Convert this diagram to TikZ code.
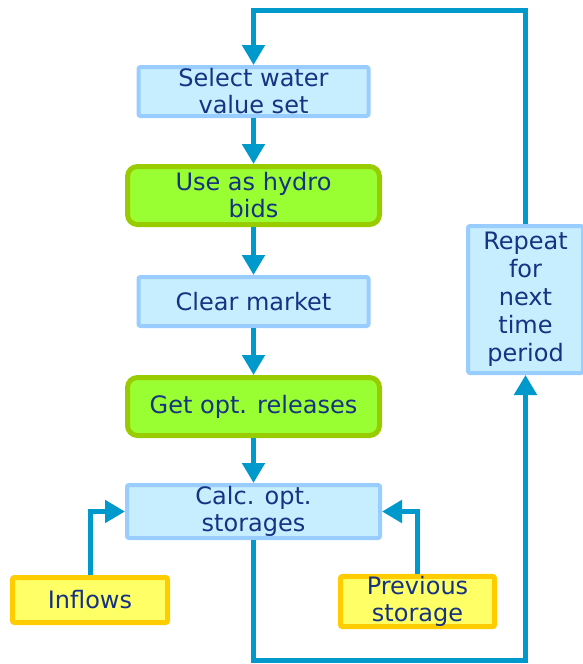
\documentclass[tikz,border=0pt]{standalone}
\usepackage{fontspec}
\setmainfont{DejaVu Sans}
\usetikzlibrary{arrows.meta}
\definecolor{txt}{RGB}{22,50,130}
\definecolor{bfill}{RGB}{198,238,255}
\definecolor{bdraw}{RGB}{153,204,255}
\definecolor{gfill}{RGB}{153,255,51}
\definecolor{gdraw}{RGB}{153,204,0}
\definecolor{yfill}{RGB}{255,255,102}
\definecolor{ydraw}{RGB}{255,204,0}
\definecolor{arr}{RGB}{0,153,204}
\begin{document}
\begin{tikzpicture}[x=1pt,y=-1pt,
  every node/.style={font=\fontsize{24}{27}\selectfont, text=txt, align=center, inner sep=0pt},
  bluebox/.style={draw=bdraw, fill=bfill, line width=4pt, rounded corners=2pt},
  greenbox/.style={draw=gdraw, fill=gfill, line width=5pt, rounded corners=10pt},
  yellowbox/.style={draw=ydraw, fill=yfill, line width=5pt, rounded corners=2pt},
  flow/.style={draw=arr, line width=5pt, -{Triangle[length=20pt,width=22pt]}}]
\useasboundingbox (0,0) rectangle (583,664);
\node[bluebox, minimum width=230pt, minimum height=49pt] (sel) at (253.5,91.5) {Select water\\value set};
\node[greenbox, minimum width=252pt, minimum height=58pt] (use) at (253.5,195.5) {Use as hydro\\bids};
\node[bluebox, minimum width=230pt, minimum height=49pt] (clr) at (253.5,301.5) {Clear market};
\node[greenbox, minimum width=252pt, minimum height=58pt] (get) at (253.5,406.5) {Get opt. releases};
\node[bluebox, minimum width=253pt, minimum height=53pt] (calc) at (253.5,511.5) {Calc. opt.\\storages};
\node[yellowbox, minimum width=155pt, minimum height=45pt] (inf) at (90,600) {Inflows};
\node[yellowbox, minimum width=154pt, minimum height=48pt] (prev) at (417.5,601.5) {Previous\\storage};
\node[bluebox, minimum width=115pt, minimum height=147pt, font=\fontsize{24}{28}\selectfont] (rep) at (525.5,299.5) {Repeat\\for\\next\\time\\period};
\coordinate (tl) at (253.5,10);
\coordinate (bl) at (253.5,660);
\draw[flow] (rep.north) |- (tl) -- (sel.north);
\draw[flow] (sel.south) -- (use.north);
\draw[flow] (use.south) -- (clr.north);
\draw[flow] (clr.south) -- (get.north);
\draw[flow] (get.south) -- (calc.north);
\draw[flow] (inf.north) |- (calc.west);
\draw[flow] (prev.north) |- (calc.east);
\draw[flow] (calc.south) -- (bl) -| (rep.south);
\end{tikzpicture}
\end{document}
